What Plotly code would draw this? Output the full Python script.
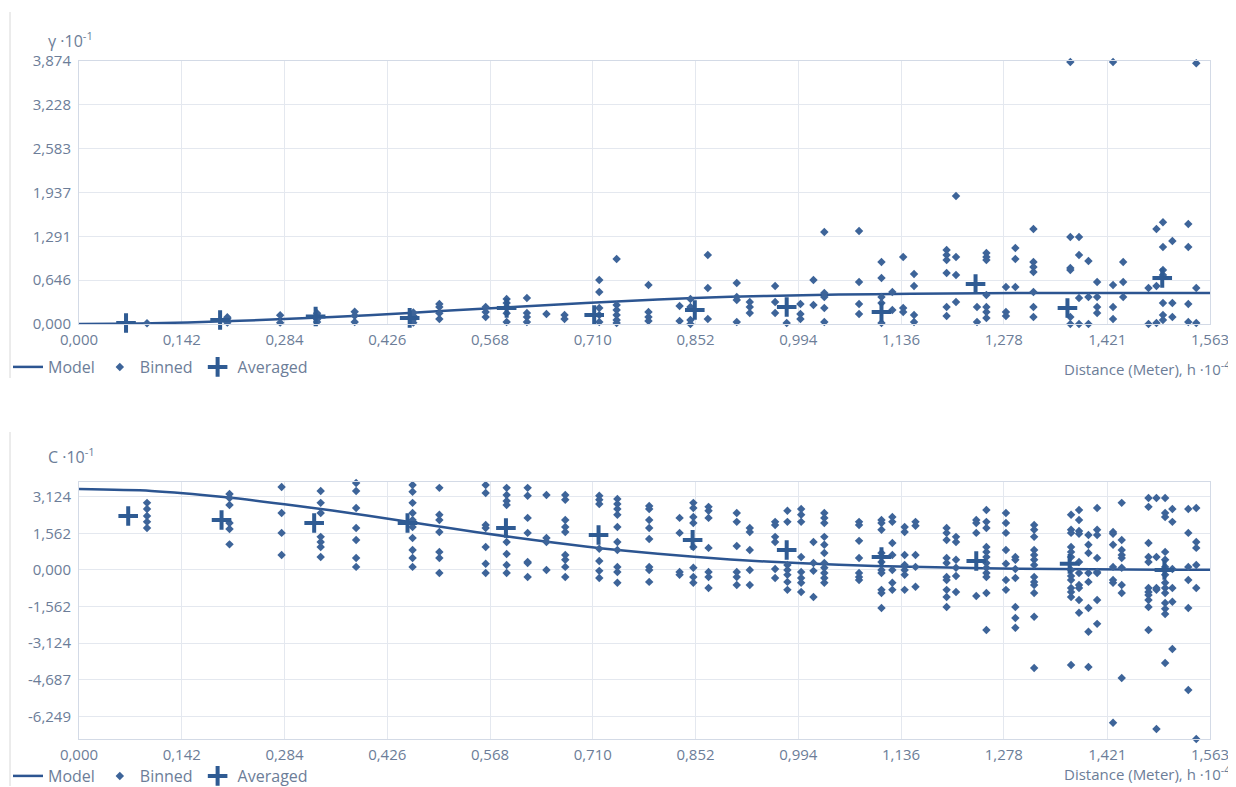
import plotly.graph_objects as go

# ---------------- data ----------------
X_TICKS = [0.0, 0.142, 0.284, 0.426, 0.568, 0.710, 0.852, 0.994, 1.136, 1.278, 1.421, 1.563]
X_TICKTEXT = ["0,000", "0,142", "0,284", "0,426", "0,568", "0,710", "0,852", "0,994", "1,136", "1,278", "1,421", "1,563"]
Y_TICKS_TOP = [0.0, 0.646, 1.291, 1.937, 2.583, 3.228, 3.874]
Y_TICKTEXT_TOP = ["0,000", "0,646", "1,291", "1,937", "2,583", "3,228", "3,874"]
Y_TICKS_BOT = [-6.249, -4.687, -3.124, -1.562, 0.0, 1.562, 3.124]
Y_TICKTEXT_BOT = ["-6,249", "-4,687", "-3,124", "-1,562", "0,000", "1,562", "3,124"]

MODEL_H = [0, 0.1, 0.2, 0.3, 0.4, 0.5, 0.6, 0.7, 0.8, 0.9, 1.0, 1.1, 1.2, 1.3, 1.4, 1.5, 1.563]
GAMMA_MODEL = [0, 0.01, 0.04, 0.08, 0.13, 0.19, 0.25, 0.31, 0.36, 0.40, 0.425, 0.44, 0.45, 0.455, 0.457, 0.458, 0.458]
COV_MODEL = [3.45, 3.37, 3.11, 2.74, 2.31, 1.84, 1.39, 1.00, 0.69, 0.45, 0.28, 0.17, 0.10, 0.05, 0.03, 0.01, 0.01]

AVG_X_TOP = [0.065, 0.195, 0.327, 0.457, 0.591, 0.712, 0.851, 0.978, 1.109, 1.239, 1.366, 1.497]
AVG_Y_TOP = [0.015, 0.06, 0.11, 0.09, 0.236, 0.133, 0.206, 0.25, 0.177, 0.589, 0.236, 0.678]
AVG_X_BOT = [0.068, 0.197, 0.325, 0.454, 0.590, 0.718, 0.848, 0.978, 1.109, 1.240, 1.369, 1.500]
AVG_Y_BOT = [2.30, 2.13, 2.00, 2.00, 1.79, 1.49, 1.28, 0.85, 0.55, 0.38, 0.26, 0.0]

BIN_X_TOP = [0.094, 0.205, 0.278, 0.329, 0.381, 0.462, 0.498, 0.562, 0.591, 0.619, 0.646, 0.671,
             0.719, 0.743, 0.787, 0.830, 0.845, 0.869, 0.909, 0.927, 0.962, 0.978, 0.997, 1.015,
             1.030, 1.078, 1.109, 1.124, 1.139, 1.154, 1.199, 1.212, 1.241, 1.254, 1.281, 1.294,
             1.319, 1.370, 1.382, 1.395, 1.407, 1.429, 1.443, 1.478, 1.489, 1.498, 1.511, 1.533, 1.544]
BIN_Y_TOP = [
    [0.01], [0.02, 0.05, 0.08, 0.10], [0.13, 0.02], [0.03, 0.07, 0.10, 0.13, 0.16], [0.18, 0.12, 0.03],
    [0.02, 0.07, 0.12, 0.17], [0.295, 0.25, 0.16, 0.074], [0.25, 0.177, 0.103],
    [0.368, 0.31, 0.25, 0.16, 0.03], [0.383, 0.162, 0.103, 0.03], [0.147], [0.133, 0.074],
    [0.648, 0.471, 0.236, 0.133, 0.03], [0.957, 0.28, 0.206, 0.133, 0.059, 0.015],
    [0.574, 0.177, 0.103, 0.044], [0.265, 0.044], [0.368, 0.25, 0.06, 0.0], [1.016, 0.53, 0.074],
    [0.604, 0.398, 0.354, 0.03], [0.324, 0.25, 0.162], [0.56, 0.324, 0.162], [0.015],
    [0.295, 0.147, 0.074], [0.648, 0.28], [1.355, 0.457, 0.398, 0.236, 0.03],
    [1.37, 0.619, 0.295, 0.147], [0.913, 0.678, 0.398, 0.31, 0.015], [0.471, 0.206],
    [0.987, 0.236, 0.177], [0.737, 0.56, 0.133, 0.03], [1.09, 1.016, 0.943, 0.751, 0.25, 0.118],
    [1.885, 0.987, 0.722, 0.324], [0.25, 0.03], [1.046, 0.987, 0.943, 0.427, 0.25, 0.177, 0.088],
    [0.545, 0.177, 0.118], [1.12, 0.957, 0.545], [1.40, 0.913, 0.84, 0.766, 0.471, 0.25, 0.103],
    [3.86, 1.28, 0.825, 0.795, 0.103, 0.0], [1.28, 1.016, 0.383, 0.0], [0.928, 0.398, 0.0],
    [0.619, 0.398, 0.25, 0.162], [3.86, 0.574, 0.25, 0.074], [0.913, 0.619, 0.398], [0.53, 0.0],
    [1.40, 0.56, 0.015], [1.50, 1.134, 0.795, 0.722, 0.31, 0.133, 0.059], [1.223, 0.31, 0.103],
    [1.473, 1.134, 0.295, 0.03], [3.84, 0.53, 0.015],
]

BIN_X_BOT = [0.094, 0.208, 0.280, 0.334, 0.383, 0.461, 0.498, 0.562, 0.591, 0.620, 0.646, 0.672,
             0.719, 0.744, 0.788, 0.830, 0.849, 0.870, 0.909, 0.927, 0.962, 0.979, 0.998, 1.015,
             1.030, 1.078, 1.109, 1.124, 1.141, 1.156, 1.199, 1.212, 1.240, 1.254, 1.281, 1.294,
             1.320, 1.371, 1.382, 1.395, 1.407, 1.429, 1.441, 1.478, 1.489, 1.501, 1.511, 1.533, 1.544]
BIN_Y_BOT = [
    [2.86, 2.60, 2.30, 2.05, 1.79], [3.24, 3.07, 2.77, 2.00, 1.75, 1.09], [3.54, 2.43, 1.58, 0.64],
    [3.37, 2.86, 2.43, 1.41, 1.19, 0.98, 0.55], [3.71, 3.37, 2.64, 1.79, 1.28, 0.51, 0.13],
    [3.62, 3.33, 2.86, 2.43, 2.13, 1.83, 1.36, 0.85, 0.51, 0.13],
    [3.50, 2.35, 2.13, 1.62, 0.77, 0.51, -0.13], [3.62, 3.28, 1.92, 1.79, 0.98, 0.26, -0.13],
    [3.50, 3.20, 2.94, 2.77, 1.19, 0.68, 0.21, -0.13], [3.50, 3.16, 2.22, 1.58, 0.34, 0.30, -0.30],
    [3.20, 1.36, 1.19, 0.0], [3.20, 2.99, 2.13, 1.83, 1.62, 0.64, 0.43, 0.13, -0.30],
    [3.16, 2.99, 2.81, 0.90, 0.38, -0.04, -0.34],
    [3.03, 2.81, 2.60, 2.35, 1.83, 1.19, 0.85, 0.13, -0.09, -0.55],
    [2.73, 2.60, 2.13, 1.79, 1.32, 0.13, 0.0, -0.51], [2.22, 1.58, -0.09, -0.21],
    [2.86, 2.64, 2.26, 2.00, 0.98, 0.09, -0.30, -0.55], [2.69, 2.52, 2.22, 0.94, -0.09, -0.30, -0.77],
    [2.43, 2.05, 1.02, -0.09, -0.30, -0.64], [1.79, 1.62, 0.85, 0.0, -0.64],
    [2.05, 1.92, 1.41, 1.19, 0.04, -0.34], [2.52, 2.05, 0.21, 0.0, -0.21, -0.51, -0.85],
    [2.60, 2.35, 2.05, 0.55, -0.09, -0.34, -0.55, -0.94], [1.19, 0.30, -0.04, -1.15],
    [2.43, 2.22, 2.00, 1.41, 1.07, 0.72, 0.30, 0.09, -0.13, -0.34, -0.55],
    [2.05, 1.92, 1.24, 0.51, -0.13, -0.30, -0.43],
    [2.13, 2.00, 1.71, 0.72, 0.34, 0.0, -0.13, -0.85, -0.98, -1.62],
    [2.26, 2.05, 1.15, 0.64, 0.0, -0.55, -0.85], [1.83, 1.62, 0.64, 0.21, 0.0, -0.21, -0.85],
    [2.05, 1.88, 0.64, 0.13, -0.72],
    [1.79, 1.58, 1.28, 0.51, 0.30, -0.30, -0.43, -0.85, -1.15, -1.58],
    [1.41, 1.19, 0.43, 0.09, -0.26, -0.94], [2.13, 2.00, 1.58, -1.11],
    [2.56, 2.05, 1.79, 0.98, 0.77, 0.55, 0.30, 0.09, -0.13, -0.30, -0.98, -2.56],
    [2.43, 2.00, 1.58, 0.85, 0.26, -0.43, -0.85], [0.55, 0.43, 0.04, -0.34, -1.58, -2.05, -2.47],
    [1.92, 1.71, 1.41, 0.85, 0.64, 0.43, 0.21, -0.30, -0.51, -0.64, -0.98, -2.0, -4.18],
    [2.35, 1.71, 1.58, 0.98, 0.77, 0.55, 0.0, -0.26, -0.43, -0.77, -0.94, -1.15, -4.05],
    [2.56, 2.13, 1.66, 1.54, 0.34, -0.13, -0.64, -0.77, -1.28, -1.83],
    [1.49, 1.07, 0.72, -0.13, -0.51, -1.62, -2.64, -4.14],
    [2.64, 1.71, 1.49, 0.51, -0.09, -0.13, -1.28, -2.30],
    [1.62, 1.54, 1.07, 0.13, -0.43, -0.55, -6.52],
    [2.86, 1.28, 0.85, 0.64, 0.51, 0.09, -0.64, -0.98, -4.61],
    [3.07, 2.69, 1.15, 0.55, 0.34, -0.77, -0.94, -1.07, -1.28, -1.58, -2.56],
    [3.07, 0.55, -0.77, -0.85, -6.78],
    [3.07, 2.43, 2.26, 0.77, 0.43, 0.13, 0.0, -0.21, -0.55, -0.77, -0.98, -1.41, -1.66, -1.88, -3.97],
    [2.60, 2.05, 0.04, -0.77, -1.36, -3.37], [2.60, 1.58, 0.13, -0.43, -1.62, -5.12],
    [2.64, 1.19, 0.94, 0.21, -0.77, -7.21],
]


def flatten(xs, yss):
    fx, fy = [], []
    for x, ys in zip(xs, yss):
        for y in ys:
            fx.append(x)
            fy.append(y)
    return fx, fy


# ---------------- layout geometry (page has an 8px body margin) ----------------
OFF = 8
W, H = 1236 - OFF - 1, 787 - OFF - 1


def px(x):
    return (x - OFF) / W


def py(y):
    return 1 - (y - OFF) / H


DOT = "#3d6499"
LINE = "#2c5591"
CROSS = "#2f5b93"
TICK = "#6c7d98"
GRID = "#e4e8ef"
BORDER = "#d3dae6"
FONT = "Open Sans"

fig = go.Figure()

for (xs, yss, axx, axy, mh, mv, ax_, ay_, leg) in [
    (BIN_X_TOP, BIN_Y_TOP, "x", "y", MODEL_H, GAMMA_MODEL, AVG_X_TOP, AVG_Y_TOP, "legend"),
    (BIN_X_BOT, BIN_Y_BOT, "x2", "y2", MODEL_H, COV_MODEL, AVG_X_BOT, AVG_Y_BOT, "legend2"),
]:
    bx, by = flatten(xs, yss)
    fig.add_trace(go.Scatter(x=mh, y=mv, mode="lines", name="Model", xaxis=axx, yaxis=axy,
                             line=dict(color=LINE, width=2.5, shape="spline", smoothing=0.8),
                             legend=leg, cliponaxis=False))
    fig.add_trace(go.Scatter(x=bx, y=by, mode="markers", name="Binned", xaxis=axx, yaxis=axy,
                             marker=dict(color=DOT, size=6.5, symbol="diamond"),
                             legend=leg, cliponaxis=False))
    fig.add_trace(go.Scatter(x=ax_, y=ay_, mode="markers", name="Averaged", xaxis=axx, yaxis=axy,
                             marker=dict(color=CROSS, size=14, symbol="cross-thin",
                                         line=dict(color=CROSS, width=4)),
                             legend=leg, cliponaxis=False))

xdom = [px(79), px(1210)]
common_x = dict(range=[0, 1.563], tickvals=X_TICKS, ticktext=X_TICKTEXT, showgrid=True,
                gridcolor=GRID, gridwidth=1, zeroline=False, showline=True, linecolor=BORDER,
                linewidth=1, mirror=True, ticks="", tickfont=dict(family=FONT, size=15, color=TICK),
                domain=xdom, automargin=False, ticklabelstandoff=2)
common_y = dict(showgrid=True, gridcolor=GRID, gridwidth=1, zeroline=False, showline=True,
                linecolor=BORDER, linewidth=1, mirror=True, ticks="", automargin=False,
                tickfont=dict(family=FONT, size=15, color=TICK), ticklabelstandoff=4)

leg_style = dict(orientation="h", xanchor="left", yanchor="middle", bgcolor="rgba(0,0,0,0)",
                 font=dict(family=FONT, size=16, color=TICK), itemwidth=30,
                 tracegroupgap=0, itemclick=False)

title_font = dict(family=FONT, size=16, color=TICK)
xtitle_font = dict(family=FONT, size=15, color=TICK)

fig.update_layout(
    width=W, height=H, margin=dict(l=0, r=0, t=0, b=0, autoexpand=False),
    paper_bgcolor="white", plot_bgcolor="white",
    xaxis=dict(**common_x, anchor="y"),
    yaxis=dict(**common_y, range=[0, 3.874], tickvals=Y_TICKS_TOP, ticktext=Y_TICKTEXT_TOP,
               domain=[py(324), py(61)], anchor="x"),
    xaxis2=dict(**common_x, anchor="y2"),
    yaxis2=dict(**common_y, range=[-7.21, 3.75], tickvals=Y_TICKS_BOT, ticktext=Y_TICKTEXT_BOT,
                domain=[py(739), py(482)], anchor="x2"),
    legend=dict(**leg_style, x=px(8), y=py(367)),
    legend2=dict(**leg_style, x=px(8), y=py(776)),
    showlegend=True,
    annotations=[
        dict(text="\u03b3 \u00b710<sup>-1</sup>", x=px(46), y=py(40), xref="paper", yref="paper",
             xanchor="left", yanchor="middle", showarrow=False, font=title_font),
        dict(text="C \u00b710<sup>-1</sup>", x=px(46), y=py(456), xref="paper", yref="paper",
             xanchor="left", yanchor="middle", showarrow=False, font=title_font),
        dict(text="Distance (Meter), h \u00b710<sup>-4</sup>", x=px(1232), y=py(368),
             xref="paper", yref="paper", xanchor="right", yanchor="middle", showarrow=False,
             font=xtitle_font),
        dict(text="Distance (Meter), h \u00b710<sup>-4</sup>", x=px(1232), y=0,
             xref="paper", yref="paper", xanchor="right", yanchor="bottom", showarrow=False,
             font=xtitle_font),
    ],
    shapes=[
        dict(type="line", xref="paper", yref="paper", x0=px(10), x1=px(10), y0=py(12),
             y1=py(378), line=dict(color="#d8d8d8", width=1)),
        dict(type="line", xref="paper", yref="paper", x0=px(10), x1=px(10), y0=py(432),
             y1=0, line=dict(color="#d8d8d8", width=1)),
    ],
)

fig.write_html("out.html")
